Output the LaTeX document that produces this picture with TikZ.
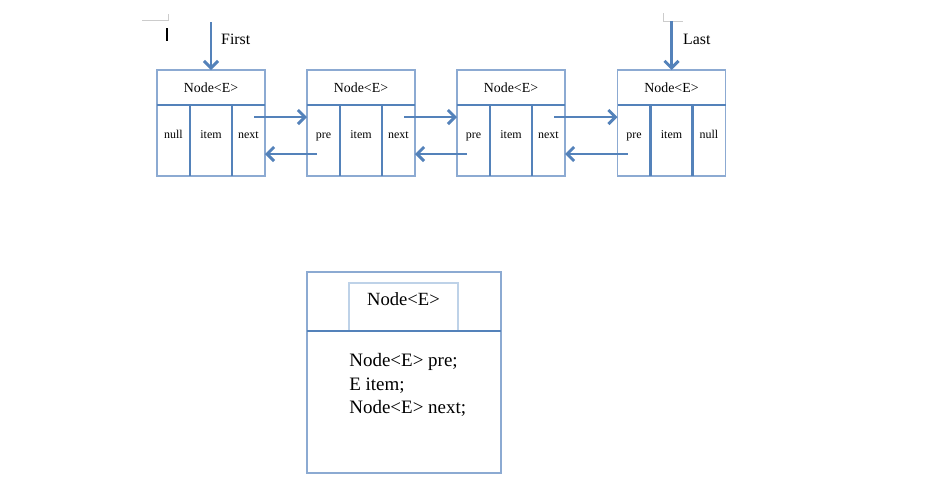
\documentclass[tikz,border=0pt]{standalone}
\usepackage{fontspec}
\setmainfont{Liberation Serif}
\usepackage{tikz}
\usetikzlibrary{positioning,arrows.meta}
\definecolor{boxblue}{RGB}{140, 170, 210}
\definecolor{lineblue}{RGB}{84, 130, 186}
\definecolor{titleblue}{RGB}{190, 210, 232}

\tikzset{
  hdr/.style={draw=boxblue, line width=0.8pt, outer sep=0pt, minimum width=21.6mm,
    minimum height=7mm, font=\fontsize{7.9}{9}\selectfont},
  cell/.style={draw=boxblue, line width=0.8pt, outer sep=0pt, minimum height=14.2mm,
    text height=1ex, text depth=1.5ex, font=\fontsize{6.8}{8}\selectfont},
  divider/.style={draw=lineblue, line width=1.2pt},
  link/.style={draw=lineblue, line width=1.7pt, -{Straight Barb[length=4pt,width=8pt]}},
  ptrlabel/.style={font=\fontsize{9}{11}\selectfont},
  big/.style={draw=boxblue, line width=0.9pt, outer sep=0pt, minimum width=38.8mm}
}

\begin{document}
\begin{tikzpicture}[x=0.2mm,y=-0.2mm]
\useasboundingbox (0,0) rectangle (930,481);

% page marks
\draw[gray!40, line width=0.5pt] (142,20) -- (168,20) -- (168,14);
\draw[gray!40, line width=0.5pt] (663,13) -- (663,21) -- (683,21);
\draw[black, line width=0.8pt] (167,28) -- (167,41);

% list nodes
\foreach \i/\x/\l/\r in {1/211/null/next, 2/361/pre/next, 3/511/pre/next, 4/671.5/pre/null} {
    \node[hdr] (h\i) at (\x,87.5) {Node<E>};
    \node[cell, minimum width=8.4mm, below=0pt of h\i] (m\i) {item};
    \node[cell, minimum width=6.6mm, left=0pt of m\i] (l\i) {\l};
    \node[cell, minimum width=6.6mm, right=0pt of m\i] (r\i) {\r};
    \draw[divider] (h\i.south west) -- (h\i.south east);
    \draw[divider] (l\i.north east) -- (l\i.south east);
    \draw[divider] (m\i.north east) -- (m\i.south east);
}

% next / pre links
\foreach \a/\b in {1/2,2/3,3/4} {
    \draw[link] ([shift={(5.5,-23.5)}]r\a.center) -- ([shift={(0,-23.5)}]l\b.west);
    \draw[link] ([shift={(-6.5,13.5)}]l\b.center) -- ([shift={(0,13.5)}]r\a.east);
}

% First and Last
\coordinate (firstptr) at (211,22);
\coordinate (lastptr) at (671.5,21);
\draw[link] (firstptr) -- (h1.north);
\draw[link] (lastptr) -- (h4.north);
\node[ptrlabel, right] (first) at (215,39) {First};
\node[ptrlabel, right] (last) at (677,39) {Last};

% Node<E> class
\node[big, minimum height=11.8mm] (top) at (404,301.5) {};
\node[big, minimum height=28.4mm, below=0pt of top] (body) {};
\node[draw=titleblue, line width=0.8pt, minimum width=21.8mm, minimum height=9.6mm,
    label={[anchor=north, yshift=-2.3pt, font=\fontsize{10.6}{12}\selectfont]north:Node<E>}]
    (title) at (403.5,307) {};
\draw[divider] (top.south west) -- (top.south east);
\node[anchor=west, align=left, inner sep=0pt, font=\fontsize{10.8}{13.3}\selectfont]
    (fields) at (349,385) {Node<E> pre;\\E item;\\Node<E> next;};
\end{tikzpicture}
\end{document}
